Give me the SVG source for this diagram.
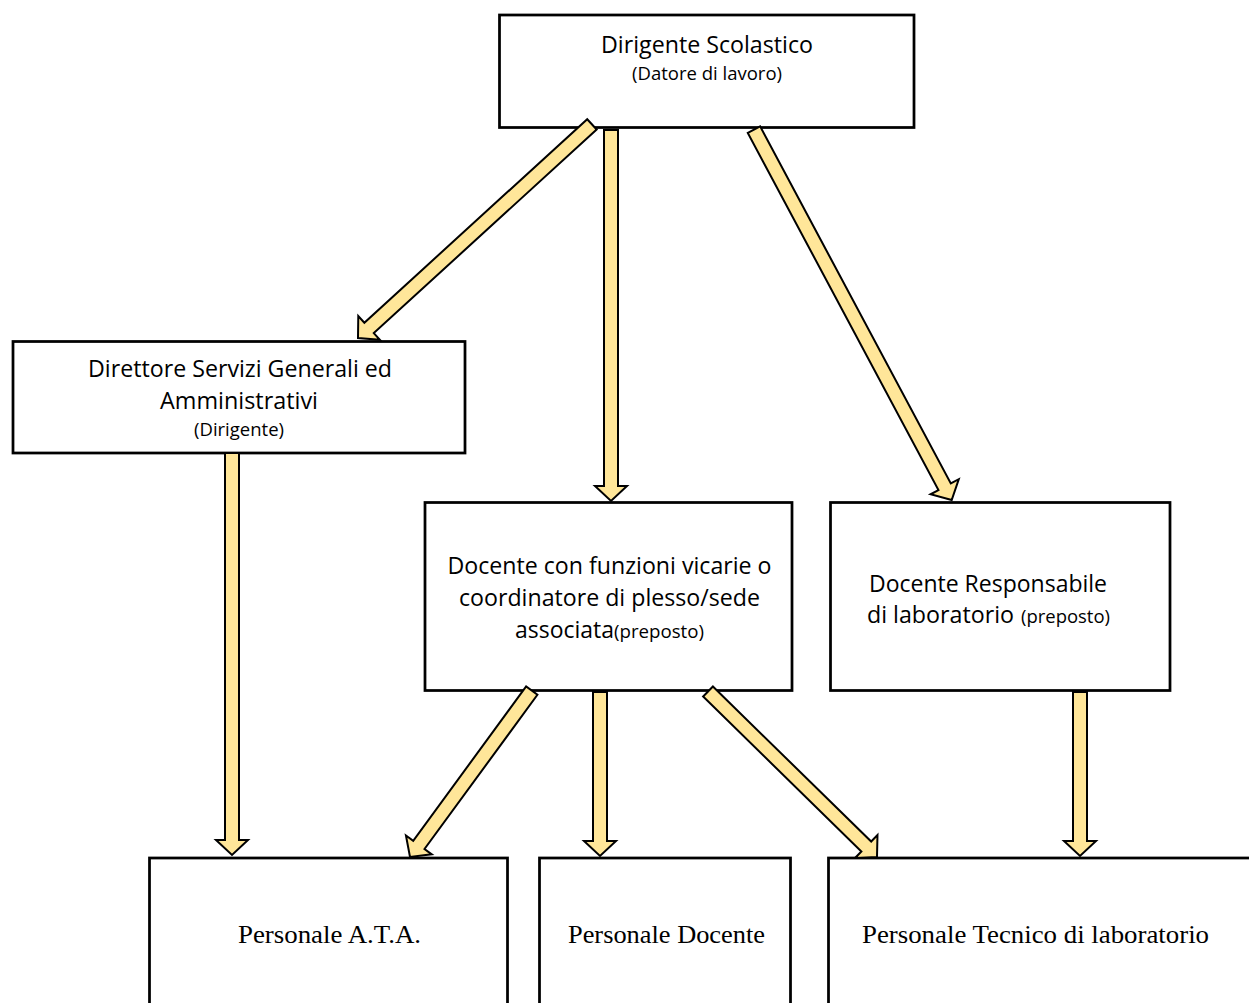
<svg xmlns="http://www.w3.org/2000/svg" width="1249" height="1003" viewBox="0 0 1249 1003">
<style>
.box{fill:#fff;stroke:#000;stroke-width:2.75}
.arr{fill:#FFE699;stroke:#000;stroke-width:2;stroke-linejoin:miter}
.t{font-family:"Open Sans","Noto Sans",sans-serif;fill:#000;font-size:23px}
.s{font-family:"Open Sans","Noto Sans",sans-serif;fill:#000;font-size:18.4px}
.b{font-family:"Liberation Serif","Times New Roman",serif;fill:#000;font-size:26px}
</style>
<rect width="1249" height="1003" fill="#fff"/>
<g id="n-dirigente">
<rect class="box" x="499.5" y="15" width="414.5" height="112.5"/>
<text class="t" x="601" y="53" textLength="212" lengthAdjust="spacingAndGlyphs">Dirigente Scolastico</text>
<text class="s" x="632" y="80" textLength="150" lengthAdjust="spacingAndGlyphs">(Datore di lavoro)</text>
</g>
<g id="n-dsga">
<rect class="box" x="13" y="341.5" width="452" height="111.5"/>
<text class="t" x="88" y="377" textLength="304" lengthAdjust="spacingAndGlyphs">Direttore Servizi Generali ed</text>
<text class="t" x="160" y="409" textLength="158" lengthAdjust="spacingAndGlyphs">Amministrativi</text>
<text class="s" x="194" y="436" textLength="90" lengthAdjust="spacingAndGlyphs">(Dirigente)</text>
</g>
<g id="n-vicario">
<rect class="box" x="425" y="502.5" width="367" height="188"/>
<text class="t" x="447.5" y="574" textLength="324" lengthAdjust="spacingAndGlyphs">Docente con funzioni vicarie o</text>
<text class="t" x="459" y="606" textLength="301" lengthAdjust="spacingAndGlyphs">coordinatore di plesso/sede</text>
<text class="t" x="515" y="638"><tspan textLength="99" lengthAdjust="spacingAndGlyphs">associata</tspan><tspan x="614" font-size="18.4" textLength="90" lengthAdjust="spacingAndGlyphs">(preposto)</tspan></text>
</g>
<g id="n-responsabile">
<rect class="box" x="830.5" y="502.5" width="339.5" height="188"/>
<text class="t" x="869" y="592" textLength="238" lengthAdjust="spacingAndGlyphs">Docente Responsabile</text>
<text class="t" x="867" y="623"><tspan textLength="147" lengthAdjust="spacingAndGlyphs">di laboratorio</tspan><tspan x="1021" font-size="18.4" textLength="89" lengthAdjust="spacingAndGlyphs">(preposto)</tspan></text>
</g>
<g id="n-ata">
<rect class="box" x="149.5" y="858" width="358" height="160"/>
<text class="b" x="238" y="943" textLength="183" lengthAdjust="spacingAndGlyphs">Personale A.T.A.</text>
</g>
<g id="n-docente">
<rect class="box" x="539.5" y="858" width="251" height="160"/>
<text class="b" x="568" y="943" textLength="197" lengthAdjust="spacingAndGlyphs">Personale Docente</text>
</g>
<g id="n-tecnico">
<rect class="box" x="828.5" y="858" width="440" height="160"/>
<text class="b" x="862" y="943" textLength="347" lengthAdjust="spacingAndGlyphs">Personale Tecnico di laboratorio</text>
</g>
<g id="connectors">
<polygon class="arr" transform="translate(358,338) rotate(137.6)" points="-316.8,-7 -15,-7 -15,-16 0,0 -15,16 -15,7 -316.8,7"/>
<polygon class="arr" transform="translate(611,501) rotate(90)" points="-371,-7 -15,-7 -15,-16 0,0 -15,16 -15,7 -371,7"/>
<polygon class="arr" transform="translate(951.7,500) rotate(61.9)" points="-419.8,-7 -15,-7 -15,-16 0,0 -15,16 -15,7 -419.8,7"/>
<polygon class="arr" transform="translate(232,855) rotate(90)" points="-402,-7 -15,-7 -15,-16 0,0 -15,16 -15,7 -402,7"/>
<polygon class="arr" transform="translate(410,857) rotate(126.2)" points="-206.2,-7 -15,-7 -15,-16 0,0 -15,16 -15,7 -206.2,7"/>
<polygon class="arr" transform="translate(600,856) rotate(90)" points="-164,-7 -15,-7 -15,-16 0,0 -15,16 -15,7 -164,7"/>
<polygon class="arr" transform="translate(877,857) rotate(44.4)" points="-236.5,-7 -15,-7 -15,-16 0,0 -15,16 -15,7 -236.5,7"/>
<polygon class="arr" transform="translate(1080,856) rotate(90)" points="-164,-7 -15,-7 -15,-16 0,0 -15,16 -15,7 -164,7"/>
</g>
</svg>
